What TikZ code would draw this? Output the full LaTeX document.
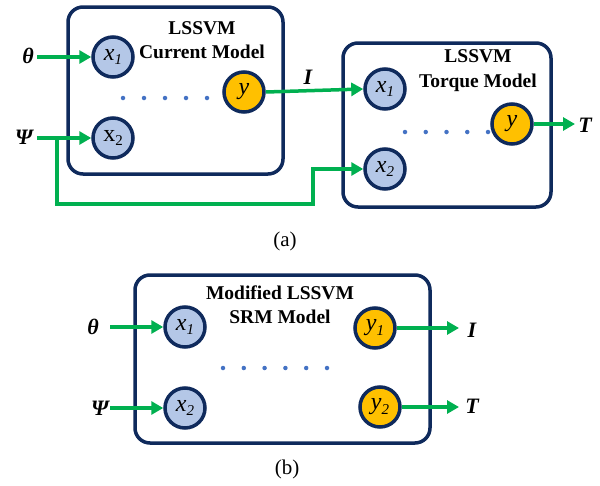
\documentclass[tikz,border=0pt]{standalone}
\usepackage{fontspec}
\setmainfont{Liberation Serif}
\usetikzlibrary{arrows.meta}
\definecolor{navy}{HTML}{0F2A5C}
\definecolor{inblue}{HTML}{B4C7E7}
\definecolor{outgold}{HTML}{FFC000}
\definecolor{flowgreen}{HTML}{00B050}
\definecolor{dotblue}{HTML}{4472C4}
% variable with lowered subscript: #1 = shape command, #2 = letter, #3 = index
\newcommand\varsub[3]{{#1{#2}}{\fontsize{15}{15}\selectfont\raisebox{-4.5pt}{#1{#3}}}}
\begin{document}
\begin{tikzpicture}[x=1pt,y=-1pt,
  modelbox/.style={draw=navy,line width=3.5pt,rounded corners=15pt,fill=white,
    minimum width=#1,inner sep=0pt},
  title/.style={font=\fontsize{19.5}{24.5}\selectfont\bfseries,align=center,inner sep=0pt},
  neuron/.style={circle,draw=navy,line width=3.5pt,minimum size=40pt,inner sep=0pt,
    font=\fontsize{24}{24}\selectfont},
  inneuron/.style={neuron,fill=inblue},
  outneuron/.style={neuron,fill=outgold},
  sig/.style={font=\fontsize{22}{22}\selectfont\bfseries\itshape,inner sep=0pt},
  flow/.style={draw=flowgreen,line width=3.5pt},
  flowarrow/.style={flow,-{Triangle[length=12pt,width=13pt]}},
  dot/.style={circle,fill=dotblue,inner sep=0pt,minimum size=4.5pt},
  caption/.style={font=\fontsize{21}{21}\selectfont,inner sep=0pt}
]
\useasboundingbox (0,0) rectangle (600,485);

% ---------- (a) two cascaded models ----------
\node[modelbox=215pt,minimum height=167pt] (boxA) at (175.5,90.5) {};
\node[modelbox=208pt,minimum height=164pt] (boxB) at (447,125) {};

\node[title] (titleA) at (202,40) {LSSVM\\Current Model};
\node[title] (titleB) at (478,70.5) {LSSVM\\Torque Model};

\node[inneuron] (xa1) at (113,57) {\varsub{\textit}{x}{1}};
\node[inneuron] (xa2) at (113,138) {\varsub{\textup}{x}{2}};
\node[outneuron] (ya) at (244,92) {\textit{y}};

\node[inneuron] (xb1) at (385,89) {\varsub{\textit}{x}{1}};
\node[inneuron] (xb2) at (385,169) {\varsub{\textit}{x}{2}};
\node[outneuron] (yb) at (512,124) {\textit{y}};

\foreach \i in {0,...,4} \node[dot] (da\i) at (123+21*\i,98) {};
\foreach \i in {0,...,4} \node[dot] (db\i) at (405+20.75*\i,132) {};

\node[sig] (thetaA) at (28,56) {θ};
\node[sig] (psiA) at (24,137) {Ψ};
\node[sig] (curA) at (308,77) {I};
\node[sig] (torqB) at (585,125) {T};

\coordinate (thetaAend) at (37,57);
\coordinate (psiAend) at (37,138);
\coordinate (tap) at (57,138);
\coordinate (low) at (57,204);
\coordinate (rise) at (313,204);
\coordinate (torqBend) at (575,124);

\draw[flowarrow] (thetaAend) -- (xa1.west);
\draw[flowarrow] (psiAend) -- (xa2.west);
\draw[flowarrow] (ya.east) -- (xb1.west);
\draw[flowarrow] (tap) -- (low) -- (rise) |- (xb2.west);
\draw[flowarrow] (yb.east) -- (torqBend);

\node[caption] (capA) at (285,241) {(a)};

% ---------- (b) merged model ----------
\node[modelbox=295pt,minimum height=168pt] (boxC) at (282.5,359) {};
\node[title] (titleC) at (280,304.5) {Modified LSSVM\\SRM Model};

\node[inneuron] (xc1) at (185,327) {\varsub{\textit}{x}{1}};
\node[inneuron] (xc2) at (185,408) {\varsub{\textit}{x}{2}};
\node[outneuron] (yc1) at (375,328) {\varsub{\textit}{y}{1}};
\node[outneuron] (yc2) at (380,407) {\varsub{\textit}{y}{2}};

\foreach \i in {0,...,5} \node[dot] (dc\i) at (223+20.8*\i,368) {};

\node[sig] (thetaC) at (93,327) {θ};
\node[sig] (psiC) at (100,408) {Ψ};
\node[sig] (curC) at (472,330) {I};
\node[sig] (torqC) at (472,406) {T};

\coordinate (thetaCend) at (110,327);
\coordinate (psiCend) at (110,408);
\coordinate (curCend) at (459,328);
\coordinate (torqCend) at (459,407);

\draw[flowarrow] (thetaCend) -- (xc1.west);
\draw[flowarrow] (psiCend) -- (xc2.west);
\draw[flowarrow] (yc1.east) -- (curCend);
\draw[flowarrow] (yc2.east) -- (torqCend);

\node[caption] (capB) at (287,469) {(b)};
\end{tikzpicture}
\end{document}
